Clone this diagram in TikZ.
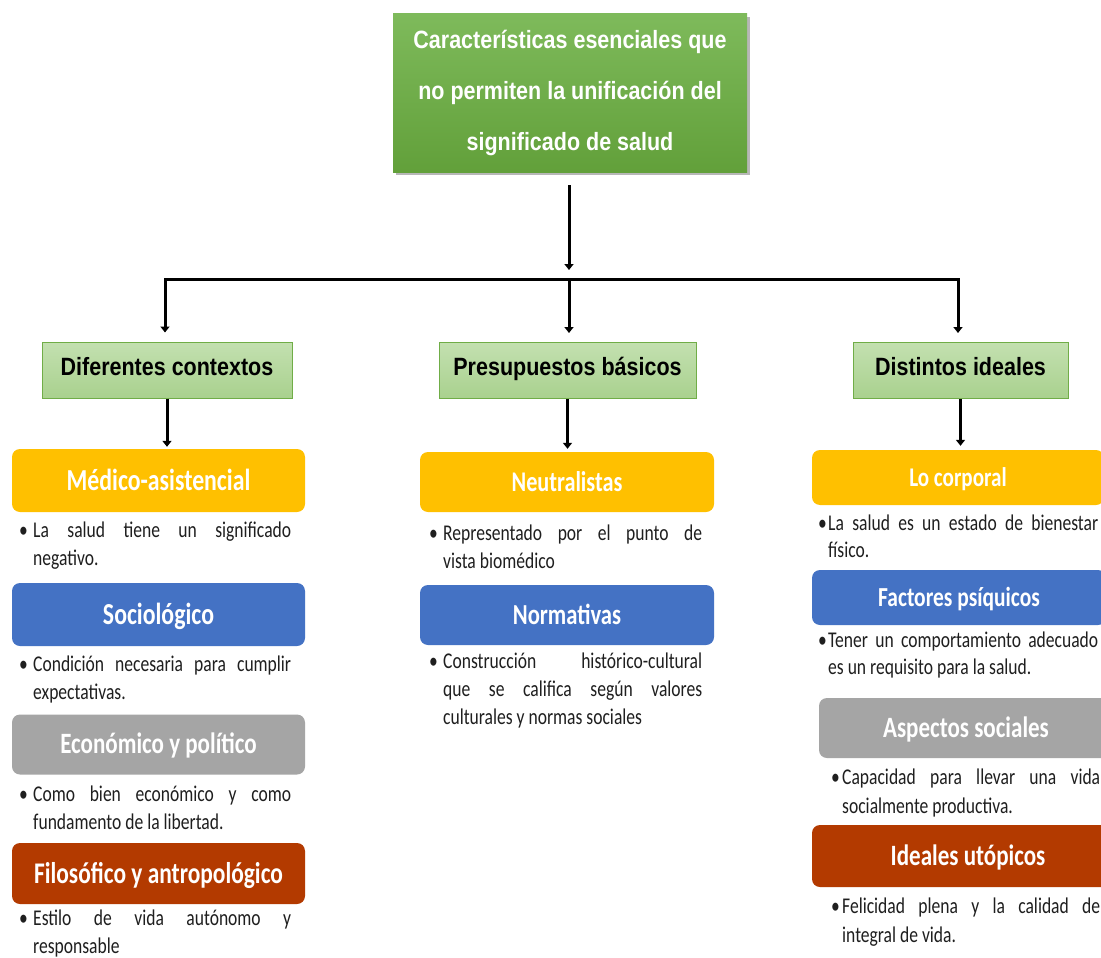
\documentclass[tikz,border=0pt]{standalone}
\usepackage{fontspec}
\setmainfont{Carlito}
\newfontfamily\headfont[FakeStretch=0.86]{Liberation Sans}
\newfontfamily\bodyfont[FakeStretch=0.78]{Carlito}
\usetikzlibrary{arrows.meta,shadows}
\definecolor{cOrange}{HTML}{FFC000}
\definecolor{cBlue}{HTML}{4472C4}
\definecolor{cGray}{HTML}{A5A5A5}
\definecolor{cRed}{HTML}{B33A00}
\definecolor{gTop}{HTML}{7EBA5B}
\definecolor{gBot}{HTML}{62A03A}
\definecolor{lgTop}{HTML}{C3E0B0}
\definecolor{lgBot}{HTML}{A9D18E}
\definecolor{gBorder}{HTML}{70AD47}
\newcommand{\BulA}[3]{\strut\makebox[#1][l]{•}\makebox[#2][s]{#3}}
\newcommand{\BulJ}[3]{\hspace*{#1}\makebox[#2][s]{#3}}
\newcommand{\BulL}[2]{\hspace*{#1}#2}
\begin{document}
\begin{tikzpicture}[x=1pt,y=-1pt,
  topbox/.style={minimum width=354pt, minimum height=158pt, inner sep=0pt, align=center,
    text=white, font=\headfont\bfseries\fontsize{25}{51}\selectfont,
    top color=gTop, bottom color=gBot, draw=none,
    drop shadow={shadow xshift=3pt, shadow yshift=-3pt, opacity=0.4, fill=black!70}},
  greenbox/.style={minimum height=56pt, inner sep=0pt,
    font=\headfont\bfseries\fontsize{25}{30}\selectfont, text height=18pt, text depth=8pt,
    top color=lgTop, bottom color=lgBot, draw=gBorder, line width=1pt},
  cbox/.style={rounded corners=8pt, inner sep=0pt, text=white, draw=none, text depth=0pt},
  ct/.style={font=\bodyfont\bfseries\fontsize{#1}{#1}\selectfont},
  bodybase/.style={anchor=north west, inner sep=0pt, align=left, text=black!88},
  body/.style={bodybase, font=\bodyfont\fontsize{22.5}{28}\selectfont, yshift=19.6pt},
  bodyR/.style={bodybase, font=\bodyfont\fontsize{22.5}{27}\selectfont, yshift=18.9pt},
  bodyS/.style={bodybase, font=\bodyfont\fontsize{22.5}{29}\selectfont, yshift=20.3pt},
  arr/.style={line width=3pt, black, -{Triangle[length=6pt,width=9pt]}}
]
\useasboundingbox (0,0) rectangle (1101,958);
\fill[white] (0,0) rectangle (1101,958);
\clip (0,0) rectangle (1101,958);

% top
\node[topbox] (top) at (570,93) {Características esenciales que\\no permiten la unificación del\\significado de salud};

% second level
\node[greenbox, minimum width=250pt] (g1) at (167,370) {Diferentes contextos};
\node[greenbox, minimum width=257pt] (g2) at (567.5,370.5) {Presupuestos básicos};
\node[greenbox, minimum width=215pt] (g3) at (960.5,370.5) {Distintos ideales};

% connectors top -> second level
\coordinate (jm) at (569,279);
\coordinate (jl) at (165,279);
\coordinate (jr) at (958,279);
\draw[arr, shorten <=13pt, shorten >=9pt] (jm |- top.south) -- (jm);
\draw[arr, shorten >=9pt] (jm) -- (jl) -- (jl |- g1.north);
\draw[arr, shorten >=9pt] (jm) -- (jr) -- (jr |- g3.north);
\draw[arr, shorten >=9pt] (jm) -- (jm |- g2.north);

% left column
\node[cbox, fill=cOrange, minimum width=293pt, minimum height=63pt, ct=30.5, text height=19.3pt] (c1) at (158.5,480.5) {Médico-asistencial};
\node[body] (tl1) at (19,537) {\BulA{14pt}{258pt}{La salud tiene un significado}\\\BulL{14pt}{negativo.}};
\node[cbox, fill=cBlue, minimum width=293pt, minimum height=63pt, ct=30.5, text height=19.3pt] (c2) at (158.5,614.5) {Sociológico};
\node[body] (tl2) at (19,671) {\BulA{14pt}{258pt}{Condición necesaria para cumplir}\\\BulL{14pt}{expectativas.}};
\node[cbox, fill=cGray, minimum width=293pt, minimum height=60pt, ct=29.5, text height=18.6pt] (c3) at (158.5,744.5) {Económico y político};
\node[body] (tl3) at (19,801) {\BulA{14pt}{258pt}{Como bien económico y como}\\\BulL{14pt}{fundamento de la libertad.}};
\node[cbox, fill=cRed, minimum width=293pt, minimum height=61pt, ct=30, text height=19pt] (c4) at (158.5,873.5) {Filosófico y antropológico};
\node[body] (tl4) at (19,925) {\BulA{14pt}{258pt}{Estilo de vida autónomo y}\\\BulL{14pt}{responsable}};

% middle column
\node[cbox, fill=cOrange, minimum width=294pt, minimum height=60pt, ct=28.5, text height=18pt] (m1) at (567,482) {Neutralistas};
\node[body] (tm1) at (429,540) {\BulA{14pt}{259pt}{Representado por el punto de}\\\BulL{14pt}{vista biomédico}};
\node[cbox, fill=cBlue, minimum width=294pt, minimum height=60pt, ct=29, text height=18.3pt] (m2) at (567,615) {Normativas};
\node[body] (tm2) at (429,668) {\BulA{14pt}{259pt}{Construcción histórico-cultural}\\\BulJ{14pt}{259pt}{que se califica según valores}\\\BulL{14pt}{culturales y normas sociales}};

% right column
\node[cbox, fill=cOrange, minimum width=292pt, minimum height=55pt, ct=27, text height=17pt] (r1) at (958,477.5) {Lo corporal};
\node[bodyR] (tr1) at (818,530) {\BulA{10pt}{270pt}{La salud es un estado de bienestar}\\\BulL{10pt}{físico.}};
\node[cbox, fill=cBlue, minimum width=294pt, minimum height=55pt, ct=27.5, text height=17.3pt] (r2) at (959,597.5) {Factores psíquicos};
\node[bodyR] (tr2) at (818,647) {\BulA{10pt}{270pt}{Tener un comportamiento adecuado}\\\BulL{10pt}{es un requisito para la salud.}};
\node[cbox, fill=cGray, minimum width=294pt, minimum height=60pt, ct=29.5, text height=18.6pt] (r3) at (966,728) {Aspectos sociales};
\node[bodyS] (tr3) at (831,784) {\BulA{11pt}{258pt}{Capacidad para llevar una vida}\\\BulL{11pt}{socialmente productiva.}};
\node[cbox, fill=cRed, minimum width=312pt, minimum height=62pt, ct=29.5, text height=18.6pt] (r4) at (968,856) {Ideales utópicos};
\node[bodyS] (tr4) at (831,913) {\BulA{11pt}{258pt}{Felicidad plena y la calidad de}\\\BulL{11pt}{integral de vida.}};

% second level -> third level
\draw[arr, shorten >=2pt] (g1.south) -- (g1.south |- c1.north);
\draw[arr, shorten >=3pt] (g2.south) -- (g2.south |- m1.north);
\draw[arr, shorten >=4pt] (g3.south) -- (g3.south |- r1.north);
\end{tikzpicture}
\end{document}
